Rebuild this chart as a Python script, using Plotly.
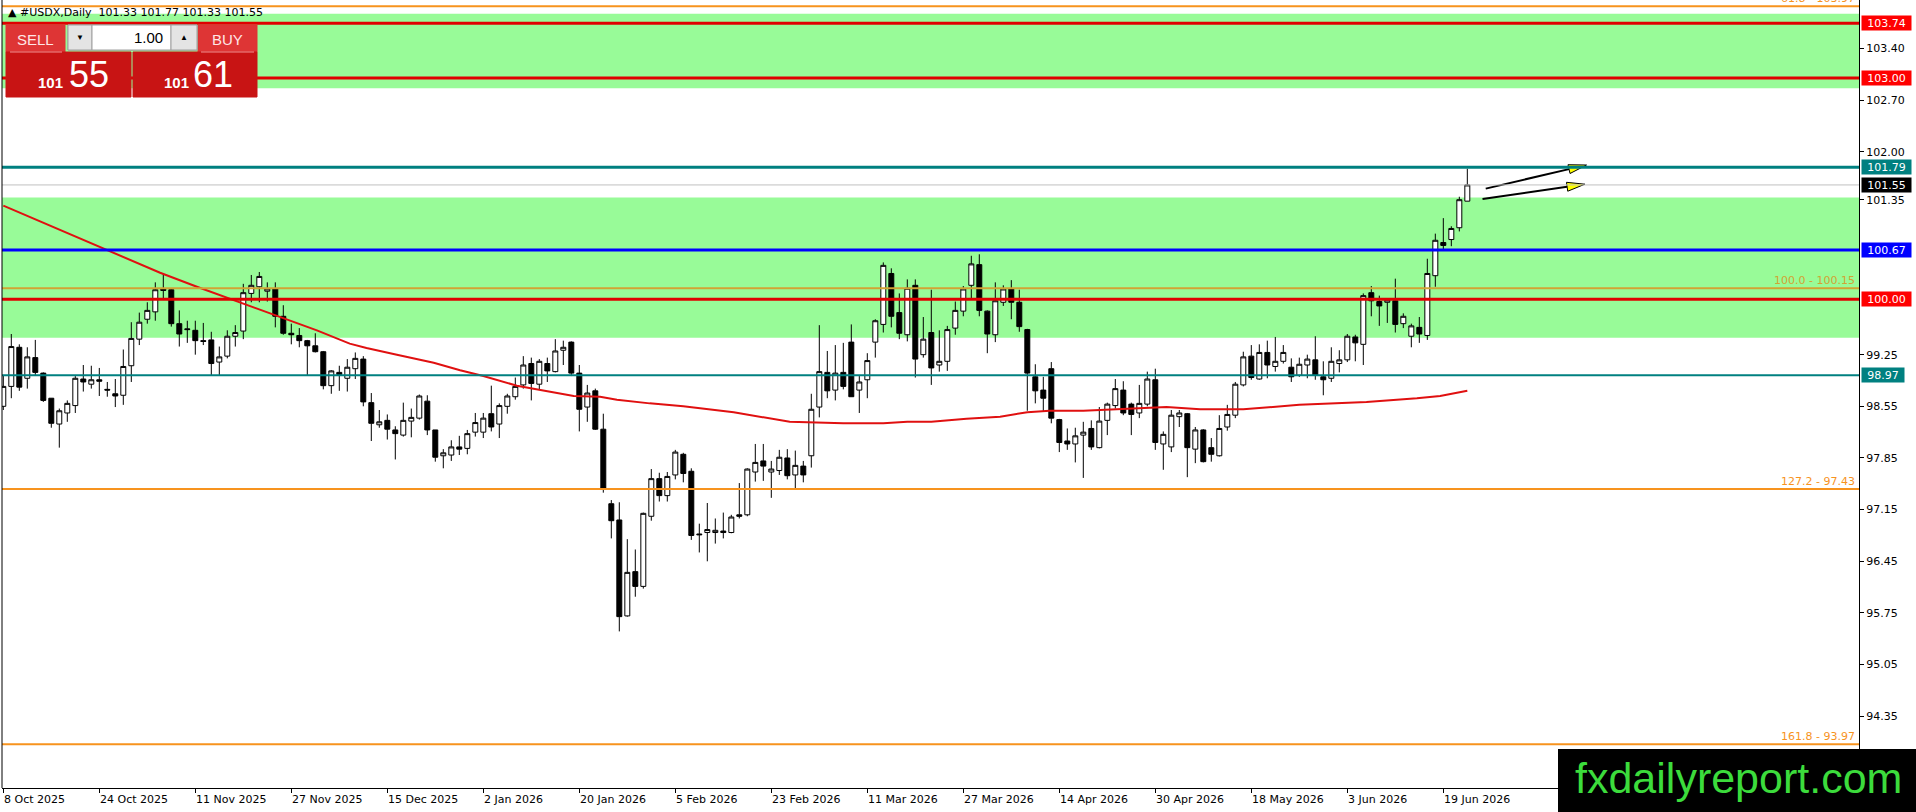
import plotly.graph_objects as go

# daily candles, 8 Oct 2025 .. 24 Jun 2026 (one bar per trading day)
opens = [98.55, 98.82, 99.35, 98.93, 99.21, 99.00, 98.66, 98.31, 98.46, 98.56,
         98.92, 98.85, 98.91, 98.78, 98.72, 98.70, 99.10, 99.46, 99.73, 99.83,
         100.14, 100.13, 99.67, 99.60, 99.58, 99.44, 99.45, 99.15, 99.23, 99.50,
         99.57, 100.08, 100.17, 100.11, 100.14, 99.77, 99.54, 99.51, 99.44, 99.37,
         99.29, 98.83, 99.01, 98.93, 99.06, 99.19, 98.60, 98.30, 98.36, 98.23,
         98.16, 98.35, 98.39, 98.62, 98.23, 97.88, 97.89, 98.00, 97.98, 98.20,
         98.20, 98.45, 98.31, 98.55, 98.68, 98.84, 99.13, 98.85, 99.13, 99.02,
         99.31, 99.42, 99.00, 98.54, 98.76, 98.24, 97.23, 97.01, 95.71, 96.31,
         96.11, 97.06, 97.57, 97.34, 97.62, 97.90, 97.67, 96.82, 96.84, 96.84,
         96.86, 96.84, 97.08, 97.08, 97.66, 97.81, 97.66, 97.68, 97.85, 97.62,
         97.74, 97.88, 98.54, 99.01, 98.77, 99.01, 99.42, 98.77, 98.91, 99.42,
         99.66, 100.35, 99.82, 99.52, 100.19, 99.25, 99.55, 99.11, 99.16, 99.61,
         99.84, 100.19, 100.47, 99.84, 99.52, 99.96, 100.14, 99.96, 99.59, 98.95,
         98.77, 99.06, 98.37, 98.08, 98.04, 98.16, 98.25, 97.99, 98.36, 98.56,
         98.77, 98.58, 98.46, 98.58, 98.91, 98.04, 98.00, 98.41, 98.45, 97.97,
         98.23, 97.99, 97.88, 98.27, 98.43, 98.84, 99.23, 98.92, 99.28, 99.09,
         99.16, 99.08, 98.97, 99.11, 99.18, 98.95, 98.93, 99.13, 99.18, 99.49,
         99.39, 100.09, 99.97, 99.96, 99.98, 99.67, 99.50, 99.62, 99.51, 100.32,
         100.77, 100.81, 100.97, 101.33]
highs = [98.97, 99.53, 99.39, 99.35, 99.45, 99.01, 98.66, 98.52, 98.63, 98.96,
         99.11, 99.10, 99.07, 98.88, 98.92, 99.32, 99.69, 99.82, 99.96, 100.23,
         100.34, 100.15, 99.85, 99.71, 99.71, 99.68, 99.56, 99.36, 99.58, 99.65,
         100.21, 100.33, 100.37, 100.23, 100.23, 99.92, 99.67, 99.61, 99.45, 99.54,
         99.30, 99.04, 99.10, 99.19, 99.28, 99.23, 98.73, 98.50, 98.44, 98.28,
         98.60, 98.52, 98.71, 98.70, 98.23, 97.97, 98.09, 98.15, 98.23, 98.46,
         98.46, 98.83, 98.59, 98.72, 98.94, 99.23, 99.21, 99.19, 99.21, 99.46,
         99.44, 99.43, 99.11, 98.84, 98.79, 98.45, 97.28, 97.25, 96.75, 96.61,
         97.11, 97.70, 97.65, 97.66, 97.96, 97.92, 97.71, 96.96, 97.24, 97.03,
         97.11, 97.08, 97.51, 97.71, 98.04, 98.04, 97.81, 97.96, 97.97, 97.95,
         97.81, 98.72, 99.65, 99.30, 99.38, 99.41, 99.66, 98.96, 99.27, 99.73,
         100.50, 100.42, 100.08, 100.27, 100.27, 99.76, 100.13, 99.58, 99.64, 99.97,
         100.18, 100.59, 100.61, 99.85, 100.23, 100.19, 100.26, 100.13, 99.60, 99.12,
         98.95, 99.15, 98.38, 98.25, 98.26, 98.34, 98.36, 98.54, 98.60, 98.92,
         98.89, 98.60, 98.84, 99.02, 99.06, 98.21, 98.50, 98.50, 98.46, 98.27,
         98.24, 98.12, 98.43, 98.57, 98.88, 99.29, 99.38, 99.39, 99.44, 99.49,
         99.38, 99.20, 99.21, 99.25, 99.50, 99.16, 99.35, 99.31, 99.53, 99.52,
         100.08, 100.18, 100.05, 100.01, 100.28, 99.81, 99.67, 99.76, 100.55, 100.89,
         101.10, 100.99, 101.39, 101.77]
lows = [98.50, 98.66, 98.76, 98.79, 98.97, 98.61, 98.26, 97.99, 98.34, 98.46,
        98.75, 98.79, 98.69, 98.68, 98.54, 98.57, 98.88, 99.38, 99.67, 99.71,
        99.99, 99.63, 99.36, 99.41, 99.25, 99.38, 98.97, 98.97, 99.20, 99.36,
        99.46, 99.96, 99.96, 99.97, 99.62, 99.52, 99.39, 99.35, 98.97, 99.28,
        98.78, 98.72, 98.76, 98.75, 98.92, 98.55, 98.08, 98.26, 98.10, 97.83,
        98.14, 98.13, 98.37, 98.16, 97.80, 97.71, 97.81, 97.89, 97.90, 98.14,
        98.12, 98.21, 98.12, 98.45, 98.64, 98.79, 98.63, 98.78, 98.88, 99.01,
        99.11, 98.96, 98.21, 98.34, 98.23, 97.38, 96.76, 95.50, 95.70, 95.97,
        96.08, 97.00, 97.26, 97.26, 97.56, 97.52, 96.74, 96.57, 96.45, 96.69,
        96.76, 96.83, 97.03, 97.06, 97.53, 97.54, 97.31, 97.62, 97.56, 97.44,
        97.52, 97.72, 98.40, 98.66, 98.63, 98.78, 98.68, 98.46, 98.66, 99.21,
        99.55, 99.62, 99.46, 99.43, 98.94, 99.21, 98.84, 99.02, 99.03, 99.52,
        99.77, 100.01, 99.77, 99.27, 99.42, 99.91, 99.73, 99.56, 98.49, 98.59,
        98.48, 98.32, 97.93, 97.96, 97.79, 97.58, 97.96, 97.98, 98.16, 98.52,
        98.43, 98.16, 98.39, 98.55, 97.96, 97.69, 97.93, 98.27, 97.59, 97.78,
        97.79, 97.80, 97.87, 98.22, 98.39, 98.82, 98.91, 98.91, 98.93, 99.02,
        99.13, 98.88, 98.95, 98.93, 98.91, 98.70, 98.88, 99.01, 99.15, 99.16,
        99.11, 99.77, 99.64, 99.68, 99.55, 99.61, 99.35, 99.41, 99.45, 100.17,
        100.68, 100.72, 100.92, 101.33]
closes = [98.82, 99.36, 98.81, 99.22, 99.01, 98.63, 98.32, 98.49, 98.59, 98.93,
          98.88, 98.91, 98.89, 98.77, 98.69, 99.09, 99.47, 99.69, 99.85, 100.13,
          100.12, 99.67, 99.53, 99.59, 99.44, 99.43, 99.13, 99.22, 99.50, 99.55,
          100.09, 100.19, 100.31, 100.14, 99.77, 99.54, 99.52, 99.44, 99.37, 99.29,
          98.83, 99.03, 98.98, 99.08, 99.20, 98.61, 98.32, 98.34, 98.24, 98.18,
          98.36, 98.40, 98.69, 98.23, 97.86, 97.92, 98.00, 97.97, 98.18, 98.33,
          98.39, 98.27, 98.56, 98.69, 98.82, 99.11, 98.86, 99.16, 99.03, 99.30,
          99.35, 99.00, 98.51, 98.73, 98.24, 97.44, 97.00, 95.70, 96.30, 96.11,
          97.10, 97.57, 97.34, 97.60, 97.93, 97.64, 96.80, 96.81, 96.88, 96.87,
          96.84, 97.05, 97.06, 97.70, 97.79, 97.74, 97.70, 97.86, 97.61, 97.75,
          97.62, 98.51, 99.02, 98.76, 99.00, 98.82, 98.68, 98.88, 99.17, 99.71,
          100.46, 99.77, 99.54, 100.15, 99.19, 99.46, 99.07, 99.16, 99.59, 99.85,
          100.14, 100.48, 99.85, 99.53, 99.98, 100.14, 99.96, 99.63, 99.00, 98.76,
          98.66, 98.39, 98.06, 98.04, 98.15, 98.20, 98.00, 98.35, 98.58, 98.79,
          98.46, 98.44, 98.59, 98.92, 98.06, 98.17, 98.43, 98.46, 97.99, 98.23,
          97.80, 97.90, 98.25, 98.44, 98.85, 99.22, 98.94, 99.28, 99.11, 99.16,
          99.28, 98.95, 99.12, 99.19, 98.97, 98.91, 99.16, 99.18, 99.50, 99.41,
          100.05, 99.98, 99.91, 99.99, 99.66, 99.77, 99.64, 99.53, 100.35, 100.80,
          100.73, 100.96, 101.35, 101.55]

# date labels on the time axis (one every 12 bars)
date_labels = ["8 Oct 2025", "24 Oct 2025", "11 Nov 2025", "27 Nov 2025",
               "15 Dec 2025", "2 Jan 2026", "20 Jan 2026", "5 Feb 2026",
               "23 Feb 2026", "11 Mar 2026", "27 Mar 2026", "14 Apr 2026",
               "30 Apr 2026", "18 May 2026", "3 Jun 2026", "19 Jun 2026"]
label_step = 12

# moving average, read at a few bars
ma_bars = [0, 12.9, 19.6, 24.2, 28.8, 32.1, 35, 37.1, 39.2, 43.3, 45.4, 49.2,
           53.8, 57.1, 60, 64.2, 68.3, 71.3, 74.6, 76.7, 80.8, 85, 91.3, 95.4,
           98.3, 105, 110, 113, 116, 120.4, 124.6, 128, 130.8, 135, 139.2,
           145.4, 149.6, 155, 162, 170.4, 176.7, 179.6, 183]
ma_vals = [101.27, 100.67, 100.36, 100.17, 99.99, 99.86, 99.75, 99.67, 99.58,
           99.40, 99.34, 99.25, 99.14, 99.04, 98.96, 98.83, 98.75, 98.69, 98.68,
           98.64, 98.59, 98.55, 98.47, 98.39, 98.34, 98.32, 98.32, 98.34, 98.34,
           98.38, 98.41, 98.47, 98.49, 98.49, 98.51, 98.54, 98.51, 98.51, 98.57,
           98.61, 98.66, 98.69, 98.76]

# horizontal levels
red_levels = [103.74, 103.00, 100.00]
teal_levels = [101.79, 98.97]
blue_levels = [100.67]
bid_price = 101.55
ask_price = 101.61

fib_names = ["61.8", "100.0", "127.2", "161.8"]
fib_prices = [103.97, 100.15, 97.43, 93.97]

zone_lows = [102.86, 99.48]
zone_highs = [103.87, 101.38]

# two arrows (bar, price) start -> tip
arrow_x0 = [185.3, 184.9]
arrow_y0 = [101.50, 101.36]
arrow_x1 = [197.9, 197.7]
arrow_y1 = [101.82, 101.56]

y_ticks = [94.35, 95.05, 95.75, 96.45, 97.15, 97.85, 98.55, 99.25,
           101.35, 102.00, 102.70, 103.40]

# ---------------------------------------------------------------- layout
W, H = 1916, 812
ML, MR, MT, MB = 2, 57, 0, 24
PW, PH = W - ML - MR, H - MT - MB
x_range = [-0.1625, 231.96]
y_range = [93.378, 104.056]

AXIS_FONT = dict(family="DejaVu Sans", size=11, color="black")
ORANGE = "#F7931E"
GOLD = "#D2A334"


def fx(X):
    # pixel x -> paper
    return (X - ML) / PW


def fy(Y):
    # pixel y -> paper
    return 1 - (Y - MT) / PH


bars = list(range(len(opens)))

fig = go.Figure()

fig.add_trace(go.Candlestick(
    x=bars, open=opens, high=highs, low=lows, close=closes,
    increasing=dict(line=dict(color="black", width=1), fillcolor="white"),
    decreasing=dict(line=dict(color="black", width=1), fillcolor="black"),
    whiskerwidth=0, hoverinfo="skip"))

fig.add_trace(go.Scatter(x=ma_bars, y=ma_vals, mode="lines",
                         line=dict(color="#E01010", width=2), hoverinfo="skip"))

# arrows: black shaft + yellow head with black outline
sx = PW / (x_range[1] - x_range[0])
sy = PH / (y_range[1] - y_range[0])
head_len, head_half = 18, 4.5
for x0, y0, x1, y1 in zip(arrow_x0, arrow_y0, arrow_x1, arrow_y1):
    ux, uy = (x1 - x0) * sx, (y1 - y0) * sy
    n = (ux ** 2 + uy ** 2) ** 0.5
    ux, uy = ux / n, uy / n
    bx, by = -head_len * ux, -head_len * uy
    px_, py_ = -uy * head_half, ux * head_half
    fig.add_trace(go.Scatter(x=[x0, x1 + bx / sx], y=[y0, y1 + by / sy], mode="lines",
                             line=dict(color="black", width=2), hoverinfo="skip"))
    hx = [x1, x1 + (bx + px_) / sx, x1 + (bx - px_) / sx, x1]
    hy = [y1, y1 + (by + py_) / sy, y1 + (by - py_) / sy, y1]
    fig.add_trace(go.Scatter(x=hx, y=hy, mode="lines", fill="toself",
                             fillcolor="#FFFF00", line=dict(color="black", width=1),
                             hoverinfo="skip"))

shapes = []
annotations = []

for lo, hi in zip(zone_lows, zone_highs):
    shapes.append(dict(type="rect", xref="paper", yref="y", x0=0, x1=1, y0=lo, y1=hi,
                       fillcolor="#98FB98", line=dict(width=0), layer="below"))


def hline(price, color, width):
    shapes.append(dict(type="line", xref="paper", yref="y", x0=0, x1=1, y0=price, y1=price,
                       line=dict(color=color, width=width), layer="above"))


def price_tag(price, bg):
    txt = f"{price:.2f}"
    annotations.append(dict(xref="paper", yref="y", x=1, y=price, xanchor="left",
                            yanchor="middle", xshift=2, text=txt, align="center",
                            showarrow=False, bgcolor=bg, borderpad=1, height=12,
                            width=6.8 * len(txt) + 6,
                            font=dict(family="DejaVu Sans", size=11, color="white")))


hline(bid_price, "#C0C0C0", 1)
for i, p in enumerate(fib_prices):
    col = GOLD if fib_names[i] == "100.0" else ORANGE
    hline(p, col, 2)
    annotations.append(dict(xref="paper", yref="y", x=1, y=p, xanchor="right",
                            yanchor="bottom", xshift=-2, yshift=-1,
                            text=f"{fib_names[i]} - {p:.2f}", showarrow=False,
                            font=dict(family="DejaVu Sans", size=11, color=col)))
for p in blue_levels:
    hline(p, "#0000FF", 3)
for i, p in enumerate(teal_levels):
    hline(p, "#008080", 3 if i == 0 else 2)
for p in red_levels:
    hline(p, "#E00000", 3)

for p in red_levels:
    price_tag(p, "#FF0000")
for p in teal_levels:
    price_tag(p, "#008080")
for p in blue_levels:
    price_tag(p, "#0000FF")
price_tag(bid_price, "#000000")

# left border of the chart window
shapes.append(dict(type="line", xref="paper", yref="paper", x0=0, x1=0, y0=0, y1=1,
                   line=dict(color="black", width=1)))

# time labels, left-aligned at their tick like the terminal does
tick_pos = [i * label_step for i in range(len(date_labels))]
for pos, lab in zip(tick_pos, date_labels):
    annotations.append(dict(xref="x", yref="paper", x=pos, y=0, xanchor="left",
                            yanchor="top", yshift=-3, xshift=-1, text=lab,
                            showarrow=False, font=AXIS_FONT))

# chart header
annotations.append(dict(xref="paper", yref="paper", x=fx(6), y=fy(13), xanchor="left",
                        yanchor="middle", showarrow=False,
                        text="\u25B2 #USDX,Daily  101.33 101.77 101.33 101.55",
                        font=dict(family="DejaVu Sans", size=11, color="black")))


# one-click trading panel
def rect(x0, y0, x1, y1, fill, line=None):
    shapes.append(dict(type="rect", xref="paper", yref="paper",
                       x0=fx(x0), x1=fx(x1), y0=fy(y1), y1=fy(y0), fillcolor=fill,
                       line=dict(color=line or fill, width=1), layer="above"))


def label(x, y, text, size, color, anchor="center", bold=False):
    annotations.append(dict(xref="paper", yref="paper", x=fx(x), y=fy(y), xanchor=anchor,
                            yanchor="middle", showarrow=False, text=text,
                            font=dict(family="Liberation Sans", size=size, color=color,
                                      weight="bold" if bold else "normal")))


rect(6, 25, 65, 52, "#DE3535")
rect(198, 25, 257, 52, "#DE3535")
rect(6, 52, 131, 97, "#C81414")
rect(133, 52, 257, 97, "#C81414")
shapes.append(dict(type="line", xref="paper", yref="paper", x0=fx(10), x1=fx(62),
                   y0=fy(52), y1=fy(52), line=dict(color="#F09090", width=1), layer="above"))
shapes.append(dict(type="line", xref="paper", yref="paper", x0=fx(201), x1=fx(254),
                   y0=fy(52), y1=fy(52), line=dict(color="#F09090", width=1), layer="above"))
rect(68, 25, 197, 50, "#F0F0F0", "#A0A0A0")
rect(68, 25, 92, 50, "#E4E4E4", "#A0A0A0")
rect(92, 25, 171, 50, "#FFFFFF", "#A0A0A0")
rect(171, 25, 197, 50, "#E4E4E4", "#A0A0A0")

label(35, 39, "SELL", 15, "#FFE6E6")
label(227, 39, "BUY", 15, "#FFE6E6")
label(165, 37, "1.00", 15, "black", anchor="right")
label(80, 37, "\u25BC", 8, "black")
label(184, 37, "\u25B2", 8, "black")
bid_big, bid_small = f"{bid_price:.2f}".split(".")
ask_big, ask_small = f"{ask_price:.2f}".split(".")
label(50, 83, bid_big, 15, "white", bold=True)
label(89, 74, bid_small, 36, "white")
label(176, 83, ask_big, 15, "white", bold=True)
label(213, 74, ask_small, 36, "white")

# watermark
shapes.append(dict(type="rect", xref="paper", yref="paper", x0=fx(1558), x1=fx(1916),
                   y0=fy(812), y1=fy(749), fillcolor="black", line=dict(width=0),
                   layer="above"))
annotations.append(dict(xref="paper", yref="paper", x=fx(1738), y=fy(778),
                        xanchor="center", yanchor="middle", showarrow=False,
                        text="fxdailyreport.com",
                        font=dict(family="Liberation Sans", size=43, color="#3CDC3C")))

fig.update_layout(
    width=W, height=H,
    margin=dict(l=ML, r=MR, t=MT, b=MB),
    paper_bgcolor="white", plot_bgcolor="white",
    showlegend=False,
    boxgap=0.38, boxgroupgap=0,
    shapes=shapes, annotations=annotations,
    xaxis=dict(range=x_range, showgrid=False, zeroline=False, showline=True,
               linecolor="black", linewidth=1, ticks="outside", ticklen=4,
               tickcolor="black", tickvals=tick_pos, showticklabels=False,
               rangeslider=dict(visible=False), fixedrange=True),
    yaxis=dict(range=y_range, side="right", showgrid=False, zeroline=False,
               showline=True, linecolor="black", linewidth=1, ticks="outside",
               ticklen=4, tickcolor="black", tickvals=y_ticks,
               ticktext=[f"{v:.2f}" for v in y_ticks], tickfont=AXIS_FONT,
               fixedrange=True),
)

# the page body has a default 8px margin; drop it so the chart sits at 0,0
fig.write_html("out.html", config={"displayModeBar": False},
               post_script="document.body.style.margin='0';")
